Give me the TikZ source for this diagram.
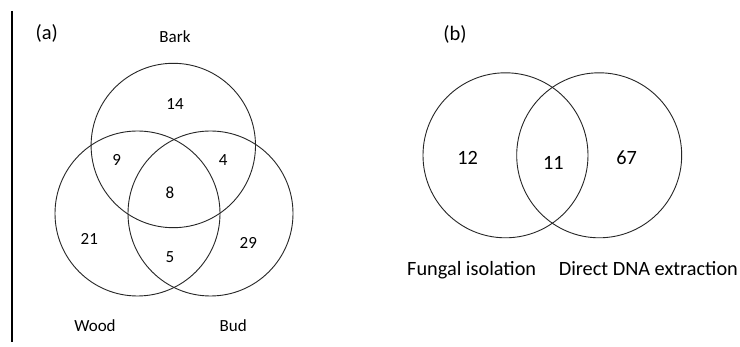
\documentclass[tikz,border=0pt]{standalone}
\usepackage{fontspec}
\setmainfont{Carlito}
\begin{document}
\begin{tikzpicture}[x=1pt,y=-1pt,
  ring/.style={draw=black!85,line width=0.9pt},
  lblA/.style={anchor=base,inner sep=0pt,font=\fontsize{17}{20}\selectfont},
  lblB/.style={anchor=base,inner sep=0pt,font=\fontsize{20.3}{24}\selectfont},
  tag/.style={anchor=base,inner sep=0pt,font=\fontsize{20.5}{24}\selectfont}]
\useasboundingbox[fill=white] (0,0) rectangle (740,347);
% divider line
\coordinate (lt) at (12,11);
\coordinate (lb) at (12,342);
\draw[line width=1.3pt] (lt) -- (lb);
% panel (a)
\node[tag] (ta) at (46.7,39.5) {(a)};
\draw[ring] (173.3,145.5) circle[radius=82.2];
\draw[ring] (137.5,213.5) circle[radius=82.5];
\draw[ring] (210.5,213.5) circle[radius=82.5];
\node[lblA] (bark) at (175,42.7) {Bark};
\node[lblA] (n14) at (175,110) {14};
\node[lblA] (n9) at (116.7,165.7) {9};
\node[lblA] (n4) at (223.3,165.7) {4};
\node[lblA] (n8) at (170,199) {8};
\node[lblA] (n21) at (89.3,245) {21};
\node[lblA] (n29) at (248.3,248.3) {29};
\node[lblA] (n5) at (170,262.3) {5};
\node[lblA] (wood) at (95,331.7) {Wood};
\node[lblA] (bud) at (233.3,331.7) {Bud};
% panel (b)
\node[tag] (tb) at (455,40.5) {(b)};
\draw[ring] (505.5,155.3) circle[radius=82.5];
\draw[ring] (599.2,155.3) circle[radius=82.5];
\node[lblB] (n12) at (467.7,164.3) {12};
\node[lblB] (n11) at (553.3,169.3) {11};
\node[lblB] (n67) at (626.7,164.3) {67};
\node[lblB] (fi) at (471.7,275.7) {Fungal isolation};
\node[lblB] (dd) at (648.3,275.7) {Direct DNA extraction};
\end{tikzpicture}
\end{document}
